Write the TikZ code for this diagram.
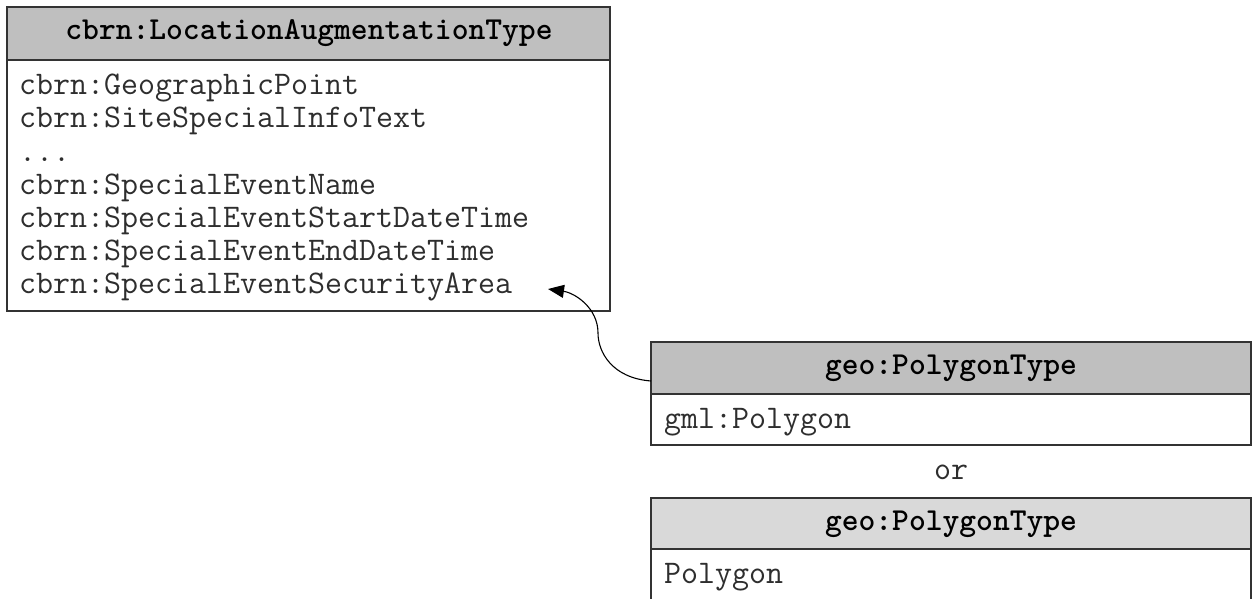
\documentclass[tikz,border=0pt]{standalone}
\usetikzlibrary{arrows.meta}
\definecolor{edge}{HTML}{333333}
\definecolor{ink}{HTML}{2E2E2E}
\definecolor{hdrdark}{HTML}{BFBFBF}
\definecolor{hdrlight}{HTML}{D9D9D9}
\begin{document}
\begin{tikzpicture}[x=1pt,y=-1pt,
  frame/.style={draw=edge,line width=1.6pt,fill=white},
  hdrdark/.style={draw=edge,line width=1.6pt,fill=hdrdark},
  hdrlight/.style={draw=edge,line width=1.6pt,fill=hdrlight},
  title/.style={font=\fontsize{32}{34}\selectfont\ttfamily\bfseries,text=black,inner sep=0pt,anchor=base},
  item/.style={font=\fontsize{33}{35}\selectfont\ttfamily,text=ink,inner sep=0pt,anchor=base west},
  link/.style={draw=black,line width=1.1pt,-{Triangle[length=16pt,width=13pt]}}]
\useasboundingbox (0,0) rectangle (1253,599);
\clip (0,0) rectangle (1253,599);

% cbrn:LocationAugmentationType
\draw[hdrdark] (7,7) rectangle (610,60);
\draw[frame] (7,60) rectangle (610,311);
\node[title] (latitle) at (309,40) {cbrn:LocationAugmentationType};
\node[item] (la1) at (19,95) {cbrn:GeographicPoint};
\node[item] (la2) at (19,128) {cbrn:SiteSpecialInfoText};
\node[item] (la3) at (19,161) {...};
\node[item] (la4) at (19,194) {cbrn:SpecialEventName};
\node[item] (la5) at (19,227) {cbrn:SpecialEventStartDateTime};
\node[item] (la6) at (19,260) {cbrn:SpecialEventEndDateTime};
\node[item] (la7) at (19,293) {cbrn:SpecialEventSecurityArea};
\coordinate (target) at (548,289);

% geo:PolygonType (gml)
\draw[hdrdark] (651,342) rectangle (1251,394);
\draw[frame] (651,394) rectangle (1251,445);
\coordinate (pgsrc) at (651,381);
\node[title] (pgtitle) at (951,374) {geo:PolygonType};
\node[item] (pg1) at (664,428) {gml:Polygon};

\node[item,anchor=base] (alt) at (951,479) {or};

% geo:PolygonType (plain)
\draw[hdrlight] (651,498) rectangle (1251,549);
\draw[frame] (651,549) rectangle (1251,640);
\node[title] (pg2title) at (951,530) {geo:PolygonType};
\node[item] (pg2) at (664,583) {Polygon};

% reference from the polygon type to the security area
\draw[link] (pgsrc) .. controls (612,378) and (598,352) .. (598,333)
  .. controls (598,308) and (575,293) .. (target);
\end{tikzpicture}
\end{document}
